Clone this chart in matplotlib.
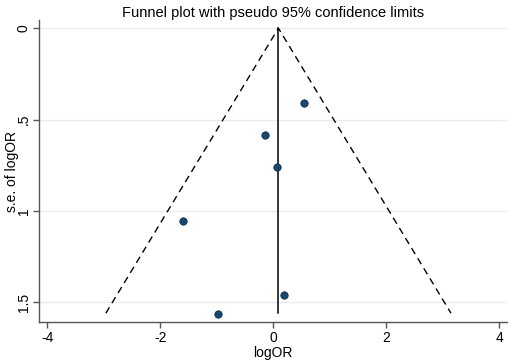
import matplotlib
matplotlib.use("Agg")
import matplotlib.pyplot as plt
import numpy as np

plt.rcParams['font.family'] = ['Liberation Sans', 'DejaVu Sans']

log_or = [0.54, -0.14, 0.065, -1.59, -0.98, 0.19]
se_log_or = [0.411, 0.583, 0.758, 1.056, 1.563, 1.459]
pooled = 0.094
se_max = 1.559
x_ticks = [-4, -2, 0, 2, 4]
y_ticks = [0, 0.5, 1, 1.5]
y_tick_labels = ['0', '.5', '1', '1.5']

fig = plt.figure(figsize=(5.1, 3.6), dpi=100)
ax = fig.add_axes([0.077, 0.105, 0.917, 0.839])

for y in y_ticks:
    ax.axhline(y, color='#e6eef0', lw=1.0, zorder=0)

ax.plot([pooled - 1.96 * se_max, pooled, pooled + 1.96 * se_max], [se_max, 0, se_max],
        ls=(0, (5, 3.5)), color='black', lw=1.0, zorder=2)
ax.plot([pooled, pooled], [0, se_max], color='black', lw=1.1, zorder=2)
ax.scatter(log_or, se_log_or, s=28, color='#1a476f', edgecolor='#0f2d4a', linewidth=0.6, zorder=3)

ax.set_xlim(-4.14, 4.14)
ax.set_ylim(1.608, -0.044)
ax.set_xticks(x_ticks)
ax.set_xticklabels([str(t) for t in x_ticks], fontsize=10)
ax.set_yticks(y_ticks)
ax.set_yticklabels(y_tick_labels, fontsize=10, rotation=90, va='center')
for s in ['top', 'right']:
    ax.spines[s].set_visible(False)
for s in ['left', 'bottom']:
    ax.spines[s].set_color('#555555')
    ax.spines[s].set_linewidth(1.0)
ax.tick_params(axis='both', colors='#555555', labelcolor='black', length=4, width=1.0, pad=2)
ax.set_xlabel('logOR', fontsize=10, labelpad=1)
fig.text(12 / 510, 1 - 171 / 360, 's.e. of logOR', fontsize=10, rotation=90,
         ha='center', va='center')
ax.set_title('Funnel plot with pseudo 95% confidence limits', fontsize=10.5, pad=0.5)

fig.savefig('out.png', dpi=100)
